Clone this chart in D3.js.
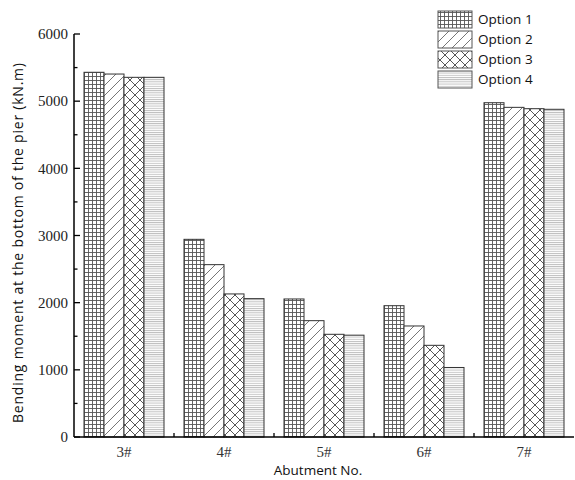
<!DOCTYPE html>
<html><head><meta charset="utf-8">
<script src="https://cdn.jsdelivr.net/npm/d3@7"></script>
<style>body{margin:0;background:#fff;}svg{display:block;}</style>
</head><body>
<svg id="c" width="575" height="480"></svg>
<script>
const categories = ["3#","4#","5#","6#","7#"];
const seriesNames = ["Option 1","Option 2","Option 3","Option 4"];
const option1 = [5430, 2943, 2055, 1955, 4977];
const option2 = [5404, 2566, 1732, 1653, 4908];
const option3 = [5355, 2130, 1529, 1365, 4888];
const option4 = [5355, 2060, 1516, 1035, 4879];
const seriesValues = [option1, option2, option3, option4];
const yMajorTicks = [0,1000,2000,3000,4000,5000,6000];
const yMinorTicks = [500,1500,2500,3500,4500,5500];

const serif = "'Liberation Serif', 'Times New Roman', serif";
const sans = "'Open Sans', 'Noto Sans', sans-serif";
const svg = d3.select("#c");
const m = {l:74, r:574, t:34, b:437};
const x0 = d3.scaleBand().domain(categories).range([m.l, m.r]).paddingInner(0).paddingOuter(0);
const x1 = d3.scaleBand().domain(seriesNames).range([10, x0.bandwidth()-10]);
const y = d3.scaleLinear().domain([0,6000]).range([m.b, m.t]);

const defs = svg.append("defs");
const p1 = defs.append("pattern").attr("id","p1").attr("patternUnits","userSpaceOnUse").attr("width",4).attr("height",4);
p1.append("rect").attr("width",4).attr("height",4).attr("fill","#fff");
p1.append("path").attr("d","M0,0.5H4M0.5,0V4").attr("stroke","#555").attr("stroke-width",0.9);
const p2 = defs.append("pattern").attr("id","p2").attr("patternUnits","userSpaceOnUse").attr("width",10).attr("height",10);
p2.append("rect").attr("width",10).attr("height",10).attr("fill","#fff");
p2.append("path").attr("d","M-2.5,2.5L2.5,-2.5M0,10L10,0M7.5,12.5L12.5,7.5").attr("stroke","#666").attr("stroke-width",0.9);
const p3 = defs.append("pattern").attr("id","p3").attr("patternUnits","userSpaceOnUse").attr("width",10).attr("height",10);
p3.append("rect").attr("width",10).attr("height",10).attr("fill","#fff");
p3.append("path").attr("d","M0,10L10,0M-2.5,2.5L2.5,-2.5M7.5,12.5L12.5,7.5M0,0L10,10M-2.5,7.5L2.5,12.5M7.5,-2.5L12.5,2.5").attr("stroke","#444").attr("stroke-width",0.9);
const p4 = defs.append("pattern").attr("id","p4").attr("patternUnits","userSpaceOnUse").attr("width",4).attr("height",2.2);
p4.append("rect").attr("width",4).attr("height",2.2).attr("fill","#fff");
p4.append("path").attr("d","M0,0.5H4").attr("stroke","#b0b0b0").attr("stroke-width",0.8);
const fills = ["url(#p1)","url(#p2)","url(#p3)","url(#p4)"];

seriesNames.forEach((s,i)=>{
  svg.append("g").selectAll("rect").data(seriesValues[i]).join("rect")
    .attr("x",(d,j)=>x0(categories[j])+x1(s))
    .attr("y",d=>y(d))
    .attr("width",x1.bandwidth())
    .attr("height",d=>y(0)-y(d))
    .attr("fill",fills[i])
    .attr("stroke","#333").attr("stroke-width",1);
});

const ya = svg.append("g");
ya.append("line").attr("x1",m.l).attr("x2",m.l).attr("y1",y(6000)).attr("y2",y(0)).attr("stroke","#000").attr("stroke-width",1.5);
ya.selectAll(".maj").data(yMajorTicks).join("line").attr("class","maj").attr("x1",m.l).attr("x2",m.l+6).attr("y1",d=>y(d)).attr("y2",d=>y(d)).attr("stroke","#000").attr("stroke-width",1.3);
ya.selectAll(".min").data(yMinorTicks).join("line").attr("class","min").attr("x1",m.l).attr("x2",m.l+3.5).attr("y1",d=>y(d)).attr("y2",d=>y(d)).attr("stroke","#000").attr("stroke-width",1.3);
ya.selectAll("text").data(yMajorTicks).join("text").attr("x",m.l-6).attr("y",d=>y(d)).attr("dy","0.35em")
  .attr("text-anchor","end").style("font-family",serif).attr("font-size",15).attr("fill","#222").text(d=>d);

const xa = svg.append("g");
xa.append("line").attr("x1",m.l).attr("x2",m.r).attr("y1",m.b).attr("y2",m.b).attr("stroke","#000").attr("stroke-width",1.5);
xa.selectAll(".t").data(categories.slice(1)).join("line").attr("class","t").attr("x1",d=>x0(d)).attr("x2",d=>x0(d)).attr("y1",m.b).attr("y2",m.b-4).attr("stroke","#000").attr("stroke-width",1.3);
xa.selectAll("text").data(categories).join("text").attr("x",d=>x0(d)+x0.bandwidth()/2).attr("y",457)
  .attr("text-anchor","middle").style("font-family",serif).attr("font-size",15).attr("fill","#333").text(d=>d);

svg.append("text").attr("x",318).attr("y",475).attr("text-anchor","middle").style("font-family",sans).attr("font-size",13.5).attr("fill","#111").text("Abutment No.");
svg.append("text").attr("transform","translate(23,243) rotate(-90)").attr("text-anchor","middle").style("font-family",sans).attr("font-size",14)
  .attr("textLength",360).attr("lengthAdjust","spacing").attr("fill","#111").text("Bending moment at the bottom of the pier (kN.m)");

const lg = svg.append("g");
seriesNames.forEach((s,i)=>{
  lg.append("rect").attr("x",438).attr("y",11+i*20).attr("width",34).attr("height",17).attr("fill",fills[i]).attr("stroke","#555").attr("stroke-width",1);
  lg.append("text").attr("x",478).attr("y",19.5+i*20).attr("dy","0.35em").style("font-family",sans).attr("font-size",13.5).attr("fill","#111").text(s);
});
</script>
</body></html>
